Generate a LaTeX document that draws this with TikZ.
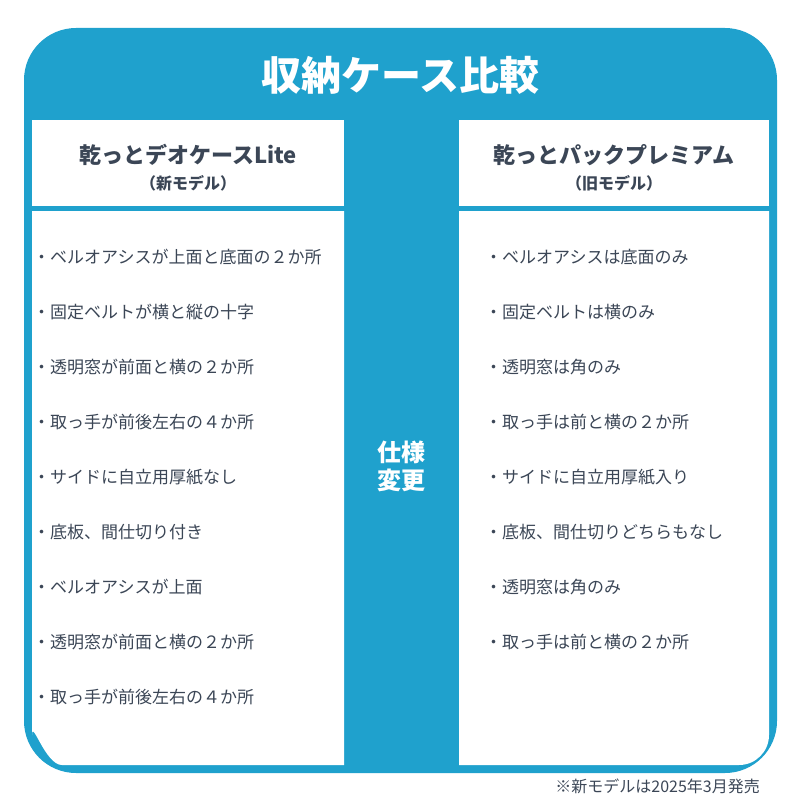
\documentclass[tikz,border=0pt]{standalone}
\usepackage{fontspec}
\setmainfont{Noto Sans CJK JP}
\definecolor{bl}{HTML}{1FA1CD}
\definecolor{tx}{HTML}{3B4656}
\begin{document}
\begin{tikzpicture}[x=1pt,y=-1pt,
 item/.style={anchor=west,text=tx,font=\fontsize{17}{17}\selectfont,inner sep=0},
 head/.style={text=tx,font=\fontsize{22}{22}\selectfont\bfseries,inner sep=0},
 sub/.style={text=tx,font=\fontsize{16}{16}\selectfont\bfseries,inner sep=0}]
\useasboundingbox (0,0) rectangle (800,800);
\fill[bl,rounded corners=52] (24,28) rectangle (777,773);
\fill[white] (32,120) rectangle (344,206);
\fill[white] (459,120) rectangle (769,206);
\fill[white] (32,211) -- (344,211) -- (344,765) -- (62,765) to[out=180,in=90] (32,735) -- cycle;
\fill[white] (459,211) -- (769,211) -- (769,735) to[out=90+180,in=0] (739,765) -- (459,765) -- cycle;
\node[text=white,font=\fontsize{40}{40}\selectfont\bfseries] (title) at (400,75) {収納ケース比較};
\node[head] (hl) at (188,155) {乾っとデオケースLite};
\node[sub] (sl) at (188,183) {（新モデル）};
\node[head] (hr) at (614,155) {乾っとパックプレミアム};
\node[sub] (sr) at (614,183) {（旧モデル）};
\node[text=white,font=\fontsize{24}{24}\selectfont\bfseries,align=center] (mid) at (401,466) {仕様\\[4pt]変更};
\foreach \t [count=\i] in {・ベルオアシスが上面と底面の２か所,・固定ベルトが横と縦の十字,・透明窓が前面と横の２か所,・取っ手が前後左右の４か所,・サイドに自立用厚紙なし,・底板、間仕切り付き,・ベルオアシスが上面,・透明窓が前面と横の２か所,・取っ手が前後左右の４か所}
 \node[item] (l\i) at (33,{257+55*(\i-1)}) {\t};
\foreach \t [count=\i] in {・ベルオアシスは底面のみ,・固定ベルトは横のみ,・透明窓は角のみ,・取っ手は前と横の２か所,・サイドに自立用厚紙入り,・底板、間仕切りどちらもなし,・透明窓は角のみ,・取っ手は前と横の２か所}
 \node[item] (r\i) at (485,{257+55*(\i-1)}) {\t};
\node[anchor=east,text=tx,font=\fontsize{16}{16}\selectfont,inner sep=0] (note) at (760,786) {※新モデルは2025年3月発売};
\end{tikzpicture}
\end{document}
